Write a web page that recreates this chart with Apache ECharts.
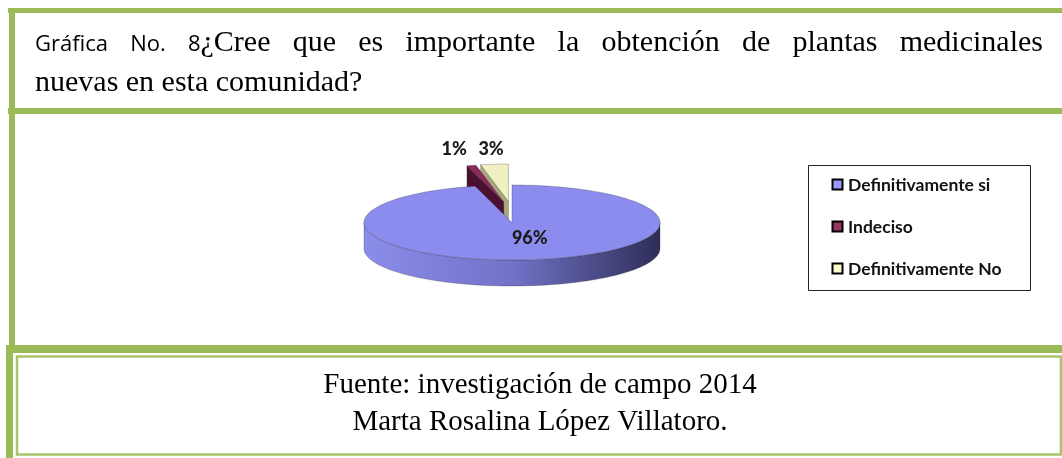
<!DOCTYPE html>
<html>
<head>
<meta charset="utf-8">
<script src="https://cdn.jsdelivr.net/npm/echarts@6/dist/echarts.min.js"></script>
<style>
  html, body { margin: 0; padding: 0; background: #fff; }
  #chart { width: 1062px; height: 458px; }
</style>
</head>
<body>
<div id="chart"></div>
<script>
  // data
  var categories = ['Definitivamente si', 'Indeciso', 'Definitivamente No']
  var values = [96, 1, 3]
  var titleLead = ['Gráfica', 'No.', '8']
  var titleWords = ['¿Cree', 'que', 'es', 'importante', 'la', 'obtención', 'de', 'plantas', 'medicinales']
  var titleLine2 = 'nuevas en esta comunidad?'
  var sourceLines = ['Fuente: investigación de campo 2014', 'Marta Rosalina López Villatoro.']

  // styles
  var legendColors = ['#9999FF', '#993366', '#FFFFCC']
  var topColors = ['#8C8CEE', '#8A2A5A', '#F0F0C0']
  var faceColors = ['#5A5AA0', '#4A1030', '#A8A880']
  var explode = [0, 21, 21]
  var green = '#9BBB59'
  var SERIF = '"Liberation Serif", "Times New Roman", serif'
  var SANS = '"Open Sans", sans-serif'
  var LBL = 'Lato, "Open Sans", sans-serif'

  var pie = { cx: 512, cy: 222.5, rx: 148, ry: 37.5, depth: 26 }
  var total = values.reduce(function (s, v) { return s + v }, 0)
  var starts = []
  var acc = 0
  values.forEach(function (v) { starts.push(acc / total * Math.PI * 2); acc += v })

  function pt (t, ox, oy, dz) {
    return [pie.cx + ox + pie.rx * Math.sin(t), pie.cy + oy - pie.ry * Math.cos(t) + (dz || 0)]
  }
  function arc (a, b, ox, oy, dz) {
    var n = Math.max(2, Math.ceil((b - a) / (Math.PI * 2) * 180))
    var pts = []
    for (var k = 0; k <= n; k++) pts.push(pt(a + (b - a) * k / n, ox, oy, dz))
    return pts
  }

  function renderSlice (params, api) {
    var i = params.dataIndex
    var v = api.value(0)
    var a = starts[i]
    var b = a + v / total * Math.PI * 2
    var mid = (a + b) / 2
    var ox = explode[i] * Math.sin(mid) * 1.8
    var oy = -explode[i] * Math.cos(mid)
    var c = [pie.cx + ox, pie.cy + oy]
    var cb = [c[0], c[1] + pie.depth]
    var base = Math.round((1 - Math.cos(mid)) * 100) * 10
    var edge = 'rgba(40,40,40,0.45)'
    var kids = []
    // cut faces
    ;[[a, a - Math.PI / 2], [b, b + Math.PI / 2]].forEach(function (f) {
      if (Math.cos(f[1]) < -0.01) {
        var p = pt(f[0], ox, oy)
        var q = pt(f[0], ox, oy, pie.depth)
        kids.push({ type: 'polygon', z2: base, shape: { points: [c, p, q, cb] },
          style: { fill: faceColors[i], stroke: edge, lineWidth: 0.6 } })
      }
    })
    // front wall
    var wa = Math.max(a, Math.PI / 2)
    var wb = Math.min(b, Math.PI * 1.5)
    if (wb > wa) {
      var topArc = arc(wa, wb, ox, oy)
      var botArc = arc(wa, wb, ox, oy, pie.depth).reverse()
      kids.push({ type: 'polygon', z2: base + 1, shape: { points: topArc.concat(botArc) },
        style: {
          fill: new echarts.graphic.LinearGradient(pie.cx - pie.rx, 0, pie.cx + pie.rx, 0, [
            { offset: 0, color: '#8C8CEA' },
            { offset: 0.5, color: '#7272C8' },
            { offset: 1, color: '#2E2E58' }
          ], true),
          stroke: edge, lineWidth: 0.6
        } })
    }
    // top face
    kids.push({ type: 'polygon', z2: base + 2, shape: { points: [c].concat(arc(a, b, ox, oy)) },
      style: { fill: topColors[i], stroke: edge, lineWidth: 0.6 } })
    // label
    var pct = Math.round(v / total * 100) + '%'
    var lx, ly
    if (v / total < 0.1) {
      lx = pie.cx + ox + 7 + pie.rx * 1.75 * Math.sin(mid)
      ly = pie.cy - pie.ry - 36
    } else {
      lx = pie.cx + pie.rx * 0.12
      ly = pie.cy + pie.ry * 0.42
    }
    kids.push({ type: 'text', z2: 5000,
      style: { text: pct, x: lx, y: ly, font: '900 18px ' + LBL, fill: '#1a1a1a',
        textAlign: 'center', textVerticalAlign: 'middle' } })
    return { type: 'group', children: kids }
  }

  // measure text for the justified first title line
  var ctx = document.createElement('canvas').getContext('2d')
  function textW (s, font) { ctx.font = font; return ctx.measureText(s).width }
  var fSerif = '30px ' + SERIF
  var fSans = '22px ' + SANS
  var tokens = []
  titleLead.forEach(function (w, k) {
    if (k < titleLead.length - 1) tokens.push([[w, fSans]])
  })
  tokens.push([[titleLead[titleLead.length - 1], fSans], [titleWords[0], fSerif]])
  titleWords.slice(1).forEach(function (w) { tokens.push([[w, fSerif]]) })
  var lineX0 = 35
  var lineX1 = 1043
  var sumW = 0
  tokens.forEach(function (tk) { tk.forEach(function (p) { sumW += textW(p[0], p[1]) }) })
  var gap = (lineX1 - lineX0 - sumW) / (tokens.length - 1)

  var graphics = []
  // green frames
  graphics.push({ type: 'rect', shape: { x: 8, y: 8, width: 1054, height: 5 }, style: { fill: green } })
  graphics.push({ type: 'rect', shape: { x: 8, y: 108, width: 1054, height: 6 }, style: { fill: green } })
  graphics.push({ type: 'rect', shape: { x: 9, y: 8, width: 6, height: 338 }, style: { fill: green } })
  graphics.push({ type: 'rect', shape: { x: 6, y: 345, width: 1056, height: 8 }, style: { fill: green } })
  graphics.push({ type: 'rect', shape: { x: 6, y: 345, width: 7, height: 113 }, style: { fill: green } })
  graphics.push({ type: 'rect', shape: { x: 17, y: 356.5, width: 1044, height: 98 },
    style: { fill: 'none', stroke: '#A9C46C', lineWidth: 2.5 } })

  // title line 1
  var x = lineX0
  tokens.forEach(function (tk) {
    tk.forEach(function (p) {
      var isSans = p[1] === fSans
      graphics.push({ type: 'text', style: { text: p[0], x: x, y: isSans ? 44.5 : 43, font: p[1], fill: '#000',
        textAlign: 'left', textVerticalAlign: 'middle' } })
      x += textW(p[0], p[1])
    })
    x += gap
  })
  graphics.push({ type: 'text', style: { text: titleLine2, x: 35, y: 83, font: fSerif, fill: '#000',
    textAlign: 'left', textVerticalAlign: 'middle' } })

  // source lines
  sourceLines.forEach(function (s, k) {
    graphics.push({ type: 'text', style: { text: s, x: 540, y: 385 + k * 37, font: '29px ' + SERIF, fill: '#000',
      textAlign: 'center', textVerticalAlign: 'middle' } })
  })

  // legend
  graphics.push({ type: 'rect', shape: { x: 808.5, y: 165.5, width: 222, height: 125 },
    style: { fill: '#fff', stroke: '#222', lineWidth: 1 } })
  categories.forEach(function (name, k) {
    var ry = 185 + k * 42
    graphics.push({ type: 'rect', shape: { x: 832.5, y: ry - 5.5, width: 10, height: 10 },
      style: { fill: legendColors[k], stroke: '#000', lineWidth: 2 } })
    graphics.push({ type: 'text', style: { text: name, x: 848, y: ry, font: 'bold 17.5px ' + LBL, fill: '#111',
      textAlign: 'left', textVerticalAlign: 'middle' } })
  })

  var chart = echarts.init(document.getElementById('chart'))
  chart.setOption({
    backgroundColor: '#fff',
    animation: false,
    graphic: graphics,
    series: [{
      type: 'custom',
      coordinateSystem: 'none',
      silent: true,
      renderItem: renderSlice,
      data: values.map(function (v, i) { return { name: categories[i], value: [v] } })
    }]
  })
</script>
</body>
</html>
